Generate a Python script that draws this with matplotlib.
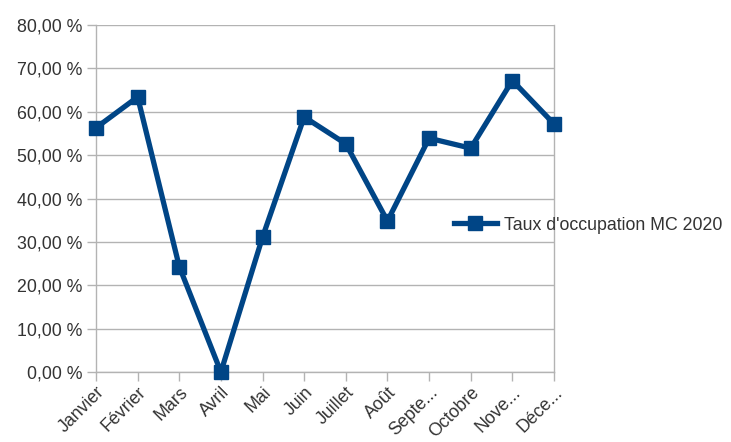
import matplotlib
matplotlib.use("Agg")
import matplotlib.pyplot as plt
from matplotlib.ticker import FuncFormatter, MultipleLocator

months = ["Janvier", "Février", "Mars", "Avril", "Mai", "Juin", "Juillet",
          "Août", "Septe...", "Octobre", "Nove...", "Déce..."]
values = [56.3, 63.4, 24.3, 0.0, 31.1, 58.8, 52.6, 34.8, 53.9, 51.6, 67.2, 57.2]
series_name = "Taux d'occupation MC 2020"

plt.rcParams['font.family'] = ['Liberation Sans', 'DejaVu Sans']
fig = plt.figure(figsize=(7.31, 4.42), dpi=100)
ax = fig.add_axes([96/731, 1-372/442, (554-96)/731, (372-25)/442])

color = "#004586"
x = list(range(len(months)))
ax.plot(x, values, color=color, lw=3.8, marker="s", ms=10, mec=color, mfc=color,
        label=series_name, clip_on=False, zorder=3)

ax.set_xlim(0, len(months)-1)
ax.set_ylim(0, 80)
ax.yaxis.set_major_locator(MultipleLocator(10))
ax.yaxis.set_major_formatter(FuncFormatter(lambda v, p: f"{v:.2f}".replace(".", ",") + " %"))
ax.set_xticks(x)
ax.set_xticklabels(months, rotation=45, ha="right", rotation_mode="anchor")
ax.grid(True, axis="y", color="#b3b3b3", lw=1)
ax.spines["top"].set_visible(False)
for s in ["left", "right", "bottom"]:
    ax.spines[s].set_color("#b3b3b3")
    ax.spines[s].set_linewidth(1)
ax.tick_params(axis="both", colors="#b3b3b3", labelcolor="#333333", labelsize=12.8,
               length=6.5, width=1, direction="out")
ax.tick_params(axis="y", pad=3)
ax.tick_params(axis="x", pad=2)
ax.tick_params(right=False)

leg = fig.legend(loc="center left", bbox_to_anchor=(438/731, 1-225/442), frameon=False,
                 fontsize=12.8, handlelength=2.4, handletextpad=0.4)
for t in leg.get_texts():
    t.set_color("#333333")

fig.savefig("out.png", dpi=100)
